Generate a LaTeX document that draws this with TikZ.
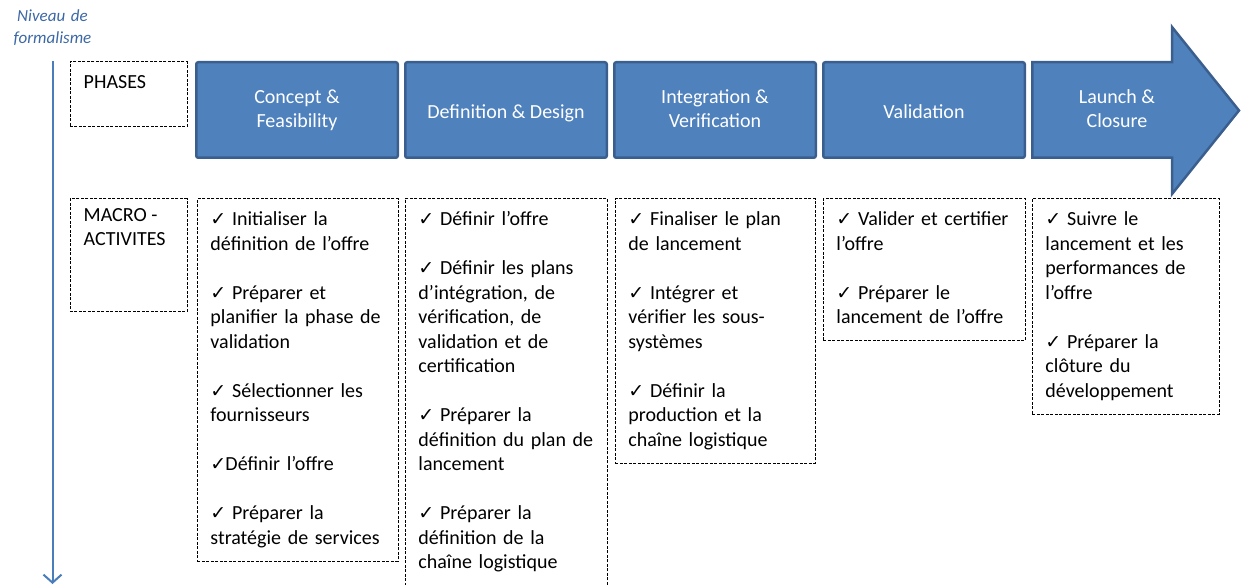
\documentclass[tikz,border=0pt]{standalone}
\usepackage{fontspec}
\setmainfont{Carlito}
\newfontfamily\symfont{DejaVu Sans}
\usepackage{xcolor}
\usetikzlibrary{positioning,arrows.meta}

\definecolor{phasefill}{HTML}{4F81BD}
\definecolor{phaseline}{HTML}{3A5F8E}
\definecolor{axisblue}{HTML}{4A7EBB}
\definecolor{labelblue}{HTML}{3C68A5}

\newcommand{\chk}{\makebox[15pt][l]{\symfont\fontsize{19}{19}\selectfont ✓}}
\newcommand{\gap}{\\[24.5pt]}

\begin{document}
\begin{tikzpicture}[
    x=1pt, y=-1pt,
    phasetext/.style={align=center, text=white, font=\fontsize{20}{24}\selectfont, execute at begin node=\rule{0pt}{20pt}, execute at end node=\rule[-3.4pt]{0pt}{3.4pt}},
    phase/.style={phasetext, rectangle, draw=phaseline, line width=2.5pt, fill=phasefill, rounded corners=2pt, minimum width=201.5pt, minimum height=95.5pt},
    tagbox/.style={rectangle, draw=black, line width=0.9pt, dash pattern=on 3pt off 1.5pt, minimum width=117pt, anchor=north west},
    tagtext/.style={anchor=north west, inner xsep=14pt, inner ysep=9.5pt, align=left, font=\fontsize{20}{24.5}\selectfont, execute at begin node=\strut, execute at end node=\strut},
    actbox/.style={rectangle, draw=black, line width=0.9pt, dash pattern=on 3pt off 1.5pt, anchor=north west, inner xsep=0pt, inner ysep=9.5pt, align=left, font=\fontsize{20}{24.5}\selectfont, execute at begin node={\leftskip=13pt\strut}, execute at end node=\strut},
    axis/.style={-{Straight Barb[length=8pt, width=18pt]}, line width=2pt, draw=axisblue}
]
    \useasboundingbox (0,0) rectangle (1242,585);

    % Formalism axis
    \node[font=\itshape\fontsize{17}{22}\selectfont, text=labelblue, text width=100pt, align=center, anchor=base] (axislbl) at (52.5,21.5) {Niveau de\\formalisme};
    \coordinate (axtop) at (52.5,61);
    \coordinate (axbot) at (52.5,584);
    \draw[axis] (axtop) -- (axbot);

    % Row headers
    \node[tagbox, minimum height=65pt] (phasesbox) at (69.5,61.5) {};
    \node[tagtext] (phaseslbl) at (phasesbox.north west) {PHASES};
    \node[tagbox, minimum height=113pt] (macrobox) at (69.5,198.5) {};
    \node[tagtext] (macrolbl) at (macrobox.north west) {MACRO -\\ACTIVITES};

    % Phases
    \node[phase]                       (concept) at (297,110) {Concept \&\\Feasibility};
    \node[phase, right=5pt of concept] (design)  {Definition \& Design};
    \node[phase, right=5pt of design]  (integ)   {Integration \&\\Verification};
    \node[phase, right=5pt of integ]   (valid)   {Validation};

    % Last phase as a block arrow
    \draw[draw=phaseline, line width=2.5pt, fill=phasefill]
        (1032.25,62.25) -- (1172,62.25) -- (1172,27) -- (1239,110.5)
        -- (1172,194) -- (1172,157.75) -- (1032.25,157.75) -- cycle;
    \node[phasetext] (launch) at (1117,110) {Launch \&\\Closure};

    % Macro-activities
    \node[actbox, text width=201pt] (act1) at (197,198.5) {\chk{} Initialiser la\\définition de l’offre\gap
        \chk{} Préparer et\\planifier la phase de\\validation\gap
        \chk{} Sélectionner les\\fournisseurs\gap
        \chk{}Définir l’offre\gap
        \chk{} Préparer la\\stratégie de services};
    \node[actbox, text width=202pt] (act2) at (405,198.5) {\chk{} Définir l’offre\gap
        \chk{} Définir les plans\\d’intégration, de\\vérification, de\\validation et de\\certification\gap
        \chk{} Préparer la\\définition du plan de\\lancement\gap
        \chk{} Préparer la\\définition de la\\chaîne logistique};
    \node[actbox, text width=200pt] (act3) at (615,198.5) {\chk{} Finaliser le plan\\de lancement\gap
        \chk{} Intégrer et\\vérifier les sous-\\systèmes\gap
        \chk{} Définir la\\production et la\\chaîne logistique};
    \node[actbox, text width=202pt] (act4) at (823,198.5) {\chk{} Valider et certifier\\l’offre\gap
        \chk{} Préparer le\\lancement de l’offre};
    \node[actbox, text width=187pt] (act5) at (1032,198.5) {\chk{} Suivre le\\lancement et les\\performances de\\l’offre\gap
        \chk{} Préparer la\\clôture du\\développement};

\end{tikzpicture}
\end{document}
